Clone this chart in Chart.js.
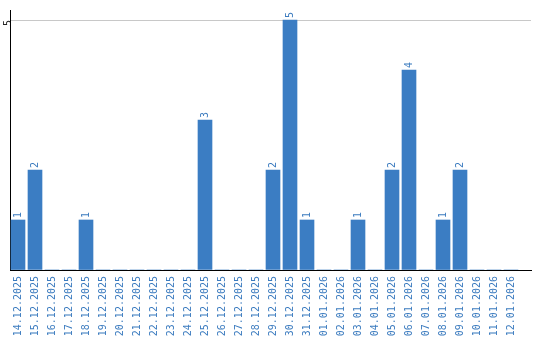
<!DOCTYPE html>
<html>
<head>
<meta charset="utf-8">
<script src="https://cdn.jsdelivr.net/npm/chart.js@4/dist/chart.umd.min.js"></script>
<style>
html,body{margin:0;padding:0;background:#fff;}
#wrap{width:540px;height:340px;position:relative;}
</style>
</head>
<body>
<div id="wrap"><canvas id="c" width="540" height="340"></canvas></div>
<script>
const categories = ["14.12.2025","15.12.2025","16.12.2025","17.12.2025","18.12.2025","19.12.2025","20.12.2025","21.12.2025","22.12.2025","23.12.2025","24.12.2025","25.12.2025","26.12.2025","27.12.2025","28.12.2025","29.12.2025","30.12.2025","31.12.2025","01.01.2026","02.01.2026","03.01.2026","04.01.2026","05.01.2026","06.01.2026","07.01.2026","08.01.2026","09.01.2026","10.01.2026","11.01.2026","12.01.2026"];
const counts = [1,2,0,0,1,0,0,0,0,0,0,3,0,0,0,2,5,1,0,0,1,0,2,4,0,1,2,0,0,0];
const yTickValues = [0,5];

const BAR = '#3b7dc3';
const TXT = '#3b7bbf';
const FONT = {family:'"DejaVu Sans Mono", monospace', size:10};

const valueLabels = {
  id:'valueLabels',
  afterDatasetsDraw(chart){
    const ctx = chart.ctx;
    const meta = chart.getDatasetMeta(0);
    ctx.save();
    ctx.fillStyle = TXT;
    ctx.font = '10px "DejaVu Sans Mono", monospace';
    meta.data.forEach((bar,i)=>{
      const v = counts[i];
      if(!v) return;
      ctx.save();
      ctx.translate(bar.x, bar.y - 2);
      ctx.rotate(-Math.PI/2);
      ctx.textAlign='left';
      ctx.textBaseline='middle';
      ctx.fillText(String(v),0,0);
      ctx.restore();
    });
    ctx.restore();
  }
};

new Chart(document.getElementById('c'),{
  type:'bar',
  data:{
    datasets:[{
      data: counts.map((v,i)=>({x:i,y:v})),
      backgroundColor:BAR,
      borderWidth:0,
      barThickness:14
    }]
  },
  options:{
    responsive:false,
    animation:false,
    events:[],
    layout:{padding:{top:10,right:9,left:0,bottom:0}},
    plugins:{legend:{display:false},tooltip:{enabled:false}},
    scales:{
      x:{
        type:'linear',
        offset:false,
        min:-8/17,
        max:513/17,
        afterBuildTicks(s){ s.ticks = categories.map((_,i)=>({value:i})); },
        afterFit(s){ s.height = 70; },
        grid:{display:false,drawTicks:false,offset:false},
        border:{display:true,color:'#000',width:1},
        ticks:{
          autoSkip:false,
          minRotation:90,maxRotation:90,
          padding:6,
          color:TXT,
          font:FONT,
          callback:(v)=>categories[v] ?? ''
        }
      },
      y:{
        min:0,
        max:5.2,
        afterBuildTicks(s){ s.ticks = yTickValues.map(v=>({value:v})); },
        afterFit(s){ s.width = 10; },
        grid:{color:'#c8c8c8',drawTicks:false},
        border:{display:true,color:'#000',width:1},
        ticks:{
          minRotation:90,maxRotation:90,
          padding:2,
          color:'#222',
          font:FONT,
          callback:(v)=> v===5 ? '5' : ''
        }
      }
    }
  },
  plugins:[valueLabels]
});
</script>
</body>
</html>
